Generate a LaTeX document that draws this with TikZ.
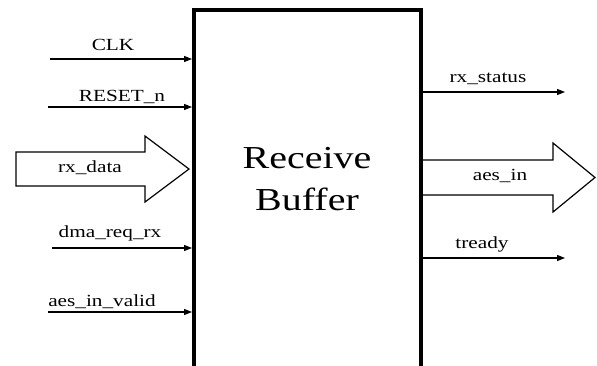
\documentclass[tikz,border=0pt]{standalone}
\usepackage{fontspec}
\setmainfont{Liberation Serif}
\newfontfamily\wideserif[FakeStretch=1.25]{Liberation Serif}
\usetikzlibrary{arrows.meta}
\tikzset{
  sig/.style={line width=1.1pt, -{Triangle[length=8pt,width=6pt]}},
  siglabel/.style={font=\wideserif\fontsize{17}{17}\selectfont, anchor=base, inner sep=0pt},
  fatarrow/.style={draw, line width=1.2pt, line join=miter, fill=white},
  block/.style={draw, line width=4pt, minimum width=227pt, minimum height=362pt, inner sep=0pt},
  blocktitle/.style={font=\wideserif\fontsize{32}{32}\selectfont, anchor=base, inner sep=0pt}
}
\begin{document}
\begin{tikzpicture}[x=1pt, y=-1pt]
\useasboundingbox (0,0) rectangle (597,365);

% the buffer block
\node[block] (buf) at (307.5,191) {};
\node[blocktitle] (t1) at (307,168) {Receive};
\node[blocktitle] (t2) at (307,210) {Buffer};

% single-bit inputs
\coordinate (clk) at (50,59);
\coordinate (rst) at (48,107);
\coordinate (dma) at (52,248);
\coordinate (aiv) at (48,312);
\draw[sig] (clk) -- (clk -| buf.west);
\draw[sig] (rst) -- (rst -| buf.west);
\draw[sig] (dma) -- (dma -| buf.west);
\draw[sig] (aiv) -- (aiv -| buf.west);
\node[siglabel] (lclk) at (113,50) {CLK};
\node[siglabel] (lrst) at (122,101) {RESET\_n};
\node[siglabel] (ldma) at (110,237) {dma\_req\_rx};
\node[siglabel] (laiv) at (102,306) {aes\_in\_valid};

% bus input
\draw[fatarrow] (16,152) -- (145,152) -- (145,136) -- (189,169) -- (145,202)
  -- (145,186) -- (16,186) -- cycle;
\node[siglabel] (lrxd) at (90,172) {rx\_data};

% single-bit outputs
\coordinate (rxs) at (565,92);
\coordinate (trd) at (565,258);
\draw[sig] (rxs -| buf.east) -- (rxs);
\draw[sig] (trd -| buf.east) -- (trd);
\node[siglabel] (lrxs) at (488,82) {rx\_status};
\node[siglabel] (ltrd) at (482,248) {tready};

% bus output
\draw[fatarrow] (423,160) -- (553,160) -- (553,143) -- (595,177.5) -- (553,212)
  -- (553,195) -- (423,195);
\node[siglabel] (laes) at (500,180) {aes\_in};
\end{tikzpicture}
\end{document}
